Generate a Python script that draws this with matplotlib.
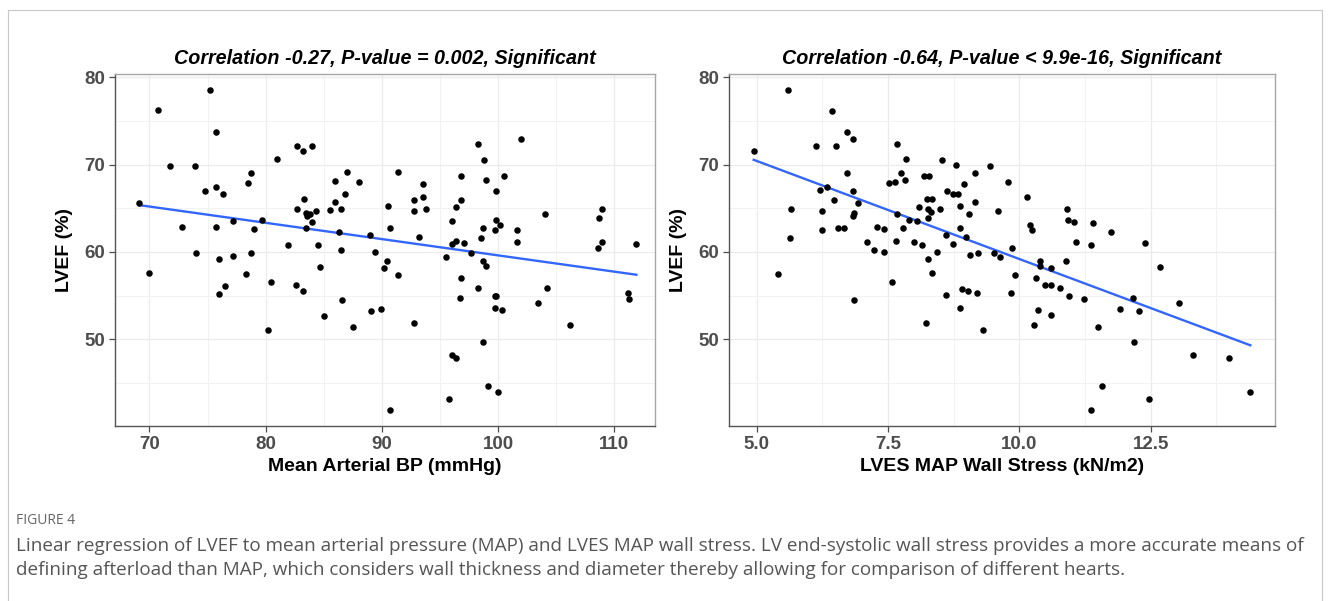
import numpy as np
import matplotlib
matplotlib.use("Agg")
import matplotlib.pyplot as plt
from matplotlib.ticker import MultipleLocator
from matplotlib.lines import Line2D

plt.rcParams['font.family'] = ['Liberation Sans', 'DejaVu Sans']

# Left panel: mean arterial BP (mmHg) vs LVEF (%)
map_bp = [69.1, 70.7, 75.2, 71.8, 73.9, 75.7, 74.8, 75.7, 76.3, 72.8, 75.7, 77.2, 79.0, 79.7,
          78.5, 78.7, 81.0, 82.7, 83.2, 84.0, 83.3, 82.7, 83.5, 83.8, 84.3, 83.6, 84.0, 83.5,
          85.5, 86.0, 86.5, 86.0, 87.0, 86.8, 88.0, 86.3, 89.0, 90.5, 91.4, 90.7, 92.8, 92.8,
          93.5, 93.5, 93.8, 93.2, 98.3, 98.8, 96.8, 99.0, 100.5, 99.8, 102.0, 96.8, 96.4, 96.0,
          99.8, 100.2, 99.7, 98.7, 101.6, 104.0, 108.7, 108.9, 89.4, 90.4, 90.2, 91.4, 89.1, 89.9,
          92.8, 90.7, 96.0, 96.4, 97.1, 95.5, 97.7, 98.5, 98.7, 99.0, 96.8, 98.3, 96.7, 99.7,
          99.8, 99.7, 100.3, 98.7, 96.0, 96.4, 99.1, 100.0, 95.8, 101.6, 103.4, 104.2, 106.2, 108.6,
          108.9, 111.9, 111.2, 111.3, 70.0, 74.0, 76.0, 77.2, 78.7, 78.3, 76.5, 76.0, 80.5, 80.2,
          81.9, 82.6, 83.2, 84.5, 84.7, 85.0, 86.5, 86.6, 87.5]
lvef_left = [65.6, 76.3, 78.6, 69.9, 69.9, 73.7, 67.0, 67.5, 66.6, 62.9, 62.9, 63.6, 62.6, 63.7,
             67.9, 69.0, 70.6, 72.2, 71.6, 72.2, 66.1, 64.9, 64.5, 64.4, 64.7, 64.1, 63.4, 62.7,
             64.8, 65.7, 64.9, 68.1, 69.2, 66.7, 68.0, 62.3, 62.0, 65.3, 69.2, 62.8, 65.9, 64.7,
             67.8, 66.3, 64.9, 61.7, 72.4, 70.5, 68.7, 68.2, 68.7, 67.0, 73.0, 66.0, 65.1, 63.5,
             63.7, 63.1, 62.5, 62.7, 62.5, 64.3, 63.9, 64.9, 60.0, 59.0, 58.2, 57.4, 53.2, 53.5,
             51.8, 41.9, 60.9, 61.3, 61.0, 59.4, 59.9, 61.6, 59.0, 58.4, 57.0, 55.9, 54.7, 54.9,
             55.0, 53.6, 53.3, 49.7, 48.2, 47.8, 44.6, 44.0, 43.2, 61.1, 54.1, 55.9, 51.6, 60.5,
             61.1, 60.9, 55.3, 54.6, 57.6, 59.9, 59.2, 59.5, 59.9, 57.5, 56.1, 55.2, 56.5, 51.0,
             60.8, 56.2, 55.5, 60.8, 58.3, 52.7, 60.2, 54.5, 51.4]

# Right panel: LVES MAP wall stress (kN/m2) vs LVEF (%)
wall_stress = [4.94, 5.60, 5.66, 5.64, 6.12, 6.20, 6.24, 6.24, 6.33, 6.43, 6.50, 6.47, 6.55, 6.66,
               6.71, 6.83, 6.71, 6.83, 6.92, 6.85, 6.83, 7.09, 7.23, 7.28, 7.42, 7.42, 7.52, 7.64,
               7.67, 7.84, 7.75, 7.82, 7.67, 7.66, 7.79, 7.89, 8.00, 8.05, 8.09, 8.14, 8.18, 8.28,
               8.24, 8.33, 8.26, 8.31, 8.26, 8.26, 8.44, 8.49, 8.52, 8.63, 8.60, 8.74, 8.79, 8.74,
               8.84, 8.87, 8.94, 8.87, 8.98, 9.05, 9.15, 9.16, 9.06, 9.21, 9.45, 9.78, 9.59, 10.14,
               10.20, 10.24, 9.86, 9.52, 9.63, 10.90, 10.92, 11.05, 11.41, 11.74, 11.07, 11.36, 12.39,
               10.39, 10.40, 10.89, 10.60, 9.91, 10.31, 10.48, 10.61, 10.77, 10.94, 11.23, 9.84,
               10.36, 10.61, 10.27, 9.31, 11.49, 11.92, 12.16, 12.28, 12.18, 12.68, 13.04, 13.30,
               13.99, 14.40, 11.57, 11.36, 12.47, 5.40, 6.86, 7.58, 8.34, 8.61, 8.23, 8.87, 8.91,
               9.03, 9.19]
lvef_right = [71.6, 78.6, 64.9, 61.6, 72.2, 67.1, 64.7, 62.5, 67.5, 76.2, 72.2, 65.9, 62.8, 62.8,
              73.7, 72.9, 69.1, 67.0, 65.6, 64.5, 64.1, 61.1, 60.2, 62.9, 62.6, 60.0, 67.9, 68.0,
              72.4, 70.6, 69.0, 68.2, 64.4, 61.3, 62.7, 63.7, 61.1, 63.5, 65.1, 60.8, 68.7, 68.7,
              66.1, 66.1, 64.9, 64.6, 63.9, 59.2, 60.0, 64.9, 70.5, 67.0, 62.0, 60.9, 70.0, 66.7,
              66.7, 65.3, 67.8, 62.7, 61.7, 64.3, 69.1, 65.7, 59.6, 59.9, 69.9, 68.0, 64.7, 66.3,
              63.1, 62.5, 60.5, 59.9, 59.4, 64.9, 63.7, 63.4, 63.3, 62.3, 61.1, 60.8, 61.0,
              59.0, 58.4, 59.0, 58.2, 57.4, 57.0, 56.2, 56.2, 55.9, 54.9, 54.6, 55.3,
              53.3, 52.8, 51.6, 51.0, 51.4, 53.5, 54.7, 53.2, 49.7, 58.3, 54.1, 48.2,
              47.8, 44.0, 44.6, 41.9, 43.2, 57.5, 54.5, 56.5, 57.6, 55.1, 51.8, 53.6, 55.8,
              55.5, 55.3]

titles = ["Correlation -0.27, P-value = 0.002, Significant",
          "Correlation -0.64, P-value < 9.9e-16, Significant"]
xlabels = ["Mean Arterial BP (mmHg)", "LVES MAP Wall Stress (kN/m2)"]
caption_head = "FIGURE 4"
caption_lines = [
    "Linear regression of LVEF to mean arterial pressure (MAP) and LVES MAP wall stress. "
    "LV end-systolic wall stress provides a more accurate means of",
    "defining afterload than MAP, which considers wall thickness and diameter "
    "thereby allowing for comparison of different hearts.",
]

W, H = 1330, 601
fig = plt.figure(figsize=(W / 100, H / 100), dpi=100)


def px_box(l, t, r, b):
    return [l / W, 1 - b / H, (r - l) / W, (b - t) / H]


panels = [
    dict(x=map_bp, y=lvef_left, box=px_box(115, 74, 655, 426), xlim=(67.04, 113.5),
         major=10, minor=5),
    dict(x=wall_stress, y=lvef_right, box=px_box(729, 74, 1275, 426), xlim=(4.47, 14.87),
         major=2.5, minor=1.25),
]

for i, p in enumerate(panels):
    ax = fig.add_axes(p['box'])
    x = np.array(p['x'])
    y = np.array(p['y'])
    ax.scatter(x, y, s=22, color='black', linewidths=0, zorder=3)
    # lm fit, like geom_smooth(method = "lm", se = FALSE)
    slope, icpt = np.polyfit(x, y, 1)
    xs = np.linspace(x.min(), x.max(), 50)
    ax.plot(xs, slope * xs + icpt, color='#3366FF', lw=1.7, zorder=2)

    ax.set_xlim(*p['xlim'])
    ax.set_ylim(40.05, 80.4)
    ax.xaxis.set_major_locator(MultipleLocator(p['major']))
    ax.xaxis.set_minor_locator(MultipleLocator(p['minor']))
    ax.yaxis.set_major_locator(MultipleLocator(10))
    ax.yaxis.set_minor_locator(MultipleLocator(5))
    if i == 1:
        ax.xaxis.set_major_formatter(lambda v, pos: f"{v:.1f}")
    ax.grid(which='major', color='#EBEBEB', lw=0.9)
    ax.grid(which='minor', color='#F2F2F2', lw=0.7)
    ax.set_axisbelow(True)
    ax.tick_params(which='minor', length=0)
    ax.tick_params(which='major', length=4, width=0.9, color='#4D4D4D', direction='out',
                   labelsize=13.5, labelcolor='#4D4D4D', pad=3)
    ax.tick_params(axis='x', which='major', pad=3.5)
    for lab in ax.get_xticklabels() + ax.get_yticklabels():
        lab.set_fontweight('bold')
    for side in ['top', 'right']:
        ax.spines[side].set_color('#A6A6A6')
        ax.spines[side].set_linewidth(1.0)
    for side in ['left', 'bottom']:
        ax.spines[side].set_color('#555555')
        ax.spines[side].set_linewidth(1.0)

    ax.set_title(titles[i], fontsize=14.2, fontweight='bold', fontstyle='italic', pad=7)
    ax.set_xlabel(xlabels[i], fontsize=14, fontweight='bold', labelpad=3)
    ax.set_ylabel("LVEF (%)", fontsize=14, fontweight='bold', labelpad=8)

# outer frame of the figure panel
fig.add_artist(Line2D([8 / W, 1322 / W], [1 - 10 / H, 1 - 10 / H], color='#C8C8C8', lw=0.8))
fig.add_artist(Line2D([8 / W, 8 / W], [0, 1 - 10 / H], color='#C8C8C8', lw=0.8))
fig.add_artist(Line2D([1322 / W, 1322 / W], [0, 1 - 10 / H], color='#C8C8C8', lw=0.8))

fig.text(16 / W, 1 - 521 / H, caption_head, fontsize=10, color='#666666',
         family=['Open Sans', 'DejaVu Sans'], va='center', ha='left')
for k, line in enumerate(caption_lines):
    fig.text(16 / W, 1 - (546 + 24 * k) / H, line, fontsize=13.6, color='#555555',
             family=['Open Sans', 'DejaVu Sans'], va='center', ha='left')

fig.savefig("out.png", dpi=100)
